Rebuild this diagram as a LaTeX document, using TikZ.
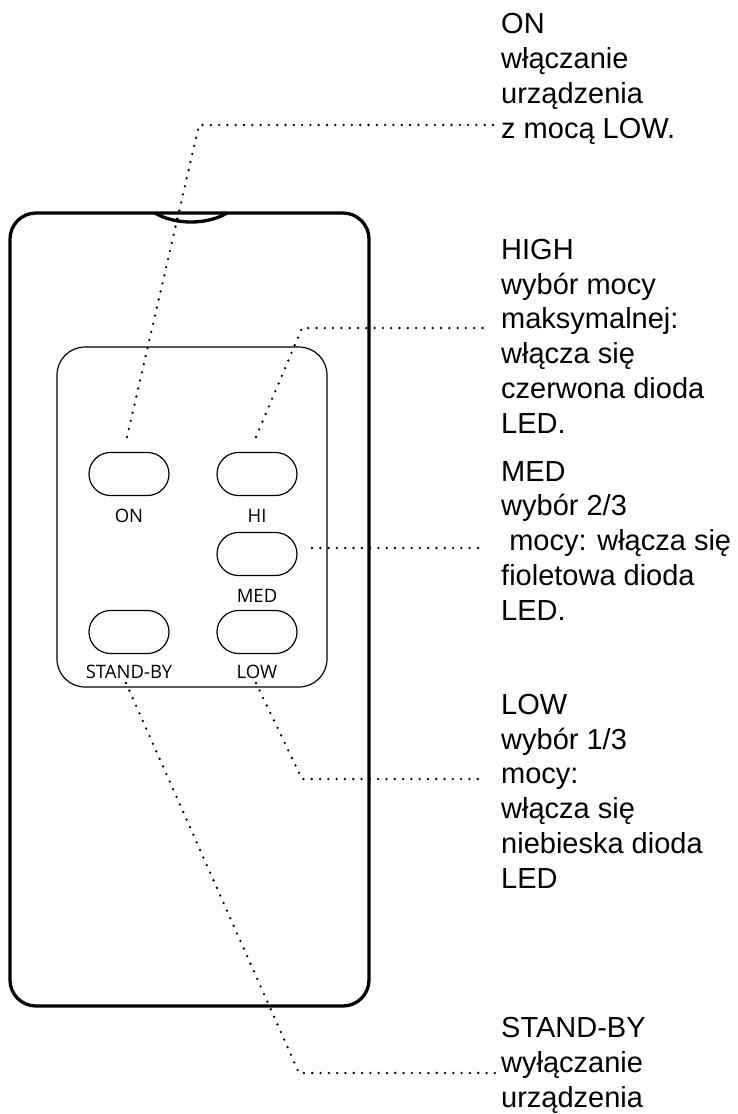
\documentclass[tikz,border=0pt]{standalone}
\usepackage{fontspec}
\setmainfont{Liberation Sans}
\newfontfamily\btnfont{Open Sans}
\begin{document}
\begin{tikzpicture}[x=1pt,y=-1pt,
  outerbox/.style={line width=3.3pt,rounded corners=26pt},
  innerbox/.style={line width=1.2pt,rounded corners=28pt},
  btn/.style={draw,line width=1.2pt,rounded corners=21.5pt,minimum width=80pt,minimum height=43pt,inner sep=0pt},
  lbl/.style={font=\btnfont\fontsize{18.5}{22}\selectfont,inner sep=0pt,anchor=base},
  desc/.style={font=\fontsize{29}{34.7}\selectfont,align=left,inner sep=0pt,anchor=base west},
  leader/.style={line width=2.6pt,line cap=round,dash pattern=on 0pt off 8.3pt}
]
\useasboundingbox (0,0) rectangle (737,1114);
% remote body
\draw[outerbox] (10,213) rectangle (369,1006);
\draw[line width=3.3pt] (155,213) .. controls (175,225) and (207,225) .. (227,213);
\draw[innerbox] (57,347) rectangle (327,687);
% buttons
\node[btn] (bon) at (129,474) {};
\node[btn] (bhi) at (257,474) {};
\node[btn] (bmed) at (257,554) {};
\node[btn] (bsb) at (129,632) {};
\node[btn] (blow) at (257,632) {};
\node[lbl] (lon) at (129,522) {ON};
\node[lbl] (lhi) at (257,522) {HI};
\node[lbl] (lmed) at (257,602) {MED};
\node[lbl] (lsb) at (129,678) {STAND-BY};
\node[lbl] (llow) at (257,678) {LOW};
% descriptions (anchored at the baseline of the last line)
\node[desc] (don) at (501,138) {ON\\włączanie\\urządzenia\\z mocą LOW.};
\node[desc] (dhi) at (501,433) {HIGH\\wybór mocy\\maksymalnej:\\włącza się\\czerwona dioda\\LED.};
\node[desc] (dmed) at (501,620) {MED\\wybór 2/3\\\ mocy: włącza się\\fioletowa dioda\\LED.};
\node[desc] (dlow) at (501,888) {LOW\\wybór 1/3\\mocy:\\włącza się\\niebieska dioda\\LED};
\node[desc] (dsb) at (501,1107) {STAND-BY\\wyłączanie\\urządzenia};
% leader coordinates
\coordinate (s1) at (127,437); \coordinate (k1) at (199,125); \coordinate (e1) at (495,125);
\coordinate (s2) at (256,437); \coordinate (k2) at (302,328); \coordinate (e2) at (486,328);
\coordinate (s3) at (312,548); \coordinate (e3) at (486,548);
\coordinate (s4) at (256,683); \coordinate (k4) at (302,779); \coordinate (e4) at (486,779);
\coordinate (s5) at (126,683); \coordinate (k5) at (299,1073); \coordinate (e5) at (495,1073);
\draw[leader] (s1) -- (k1) -- (e1);
\draw[leader] (s2) -- (k2) -- (e2);
\draw[leader] (s3) -- (e3);
\draw[leader] (s4) -- (k4) -- (e4);
\draw[leader] (s5) -- (k5) -- (e5);
\end{tikzpicture}
\end{document}
